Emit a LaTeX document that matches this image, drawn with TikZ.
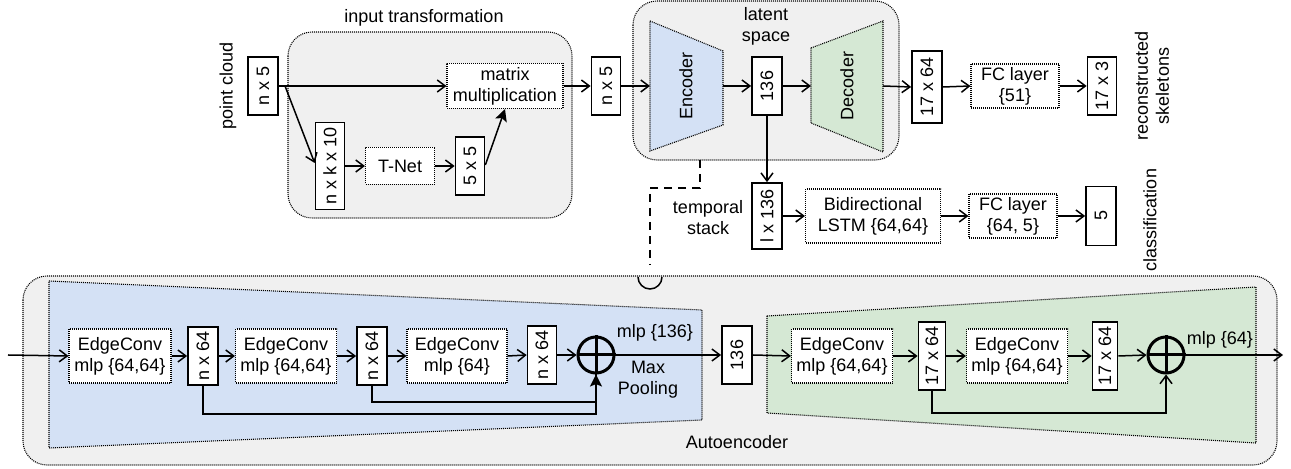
\documentclass[tikz,border=0pt]{standalone}
\usepackage{fontspec}
\setmainfont{Liberation Sans}
\usetikzlibrary{arrows.meta,calc}
\definecolor{bggray}{HTML}{F0F0F0}
\definecolor{encblue}{HTML}{D4E1F5}
\definecolor{decgreen}{HTML}{D5E8D4}
\tikzset{
  x=0.5pt,y=-0.5pt,
  every node/.style={font=\fontsize{9}{10.5}\selectfont, align=center},
  dotb/.style={dash pattern=on 0.5pt off 0.5pt, line width=0.55pt},
  dimbox/.style={draw, fill=white, line width=0.85pt, inner sep=0pt},
  opbox/.style={draw, dotb, fill=white, inner sep=0pt},
  conn/.style={line width=0.75pt, -{Straight Barb[length=4pt,width=6pt]}},
  fconn/.style={line width=0.75pt, -{Stealth[length=6pt,width=6pt,inset=1.2pt]}},
  plain/.style={line width=0.75pt},
  group/.style={draw, dotb, fill=bggray, rounded corners=12pt},
  oplus/.style={draw, circle, line width=1.5pt, minimum size=18pt, inner sep=0pt},
}
\newcommand{\rot}[1]{\rotatebox{90}{#1}}
\begin{document}
\begin{tikzpicture}
\useasboundingbox (0,0) rectangle (1291,469);

% ---------- group backgrounds ----------
\draw[group] (288,32) rectangle (572,218);
\draw[group] (633,1) rectangle (899,160);
\draw[group] (23,276) rectangle (1277,465);

% group labels
\node (itlab) at (424,18) {input transformation};
\node (lslab) at (766,26) {latent\\space};
\node (aelab) at (737,442) {Autoencoder};

% ---------- input transformation ----------
\node[dimbox, minimum width=15pt, minimum height=29pt] (pc) at (263,86) {\rot{n x 5}};
\node[rotate=90] (pclab) at (228,86) {point cloud};
\node[opbox, minimum width=58pt, minimum height=22.5pt] (mm) at (505,86) {matrix\\multiplication};
\node[dimbox, minimum width=14.5pt, minimum height=43.5pt] (nkx) at (330,166) {\rot{n x k x 10}};
\node[opbox, minimum width=34.5pt, minimum height=18.5pt] (tnet) at (400,166) {T-Net};
\node[dimbox, minimum width=14.5pt, minimum height=29pt] (f55) at (470,166) {\rot{5 x 5}};
\node[dimbox, minimum width=14.5pt, minimum height=29pt] (nx5b) at (606,86) {\rot{n x 5}};

\coordinate (split) at (285,86);
\draw[conn] (pc.east) -- (mm.west);
\draw[conn] (split) -- ($(nkx.west)+(0,-3)$);
\draw[conn] (nkx.east) -- (tnet.west);
\draw[conn] (tnet.east) -- (f55.west);
\draw[fconn] ($(f55.east)+(0,-1)$) -- (mm.south);
\draw[conn] (mm.east) -- (nx5b.west);

% ---------- latent space ----------
\draw[dotb, fill=encblue] (650,21) -- (723,51) -- (723,125) -- (650,151) -- cycle;
\node[rotate=90] (enclab) at (686,86) {Encoder};
\coordinate (encL) at (650,86);
\coordinate (encR) at (723,86);
\draw[dotb, fill=decgreen] (811,48) -- (883,21) -- (883,152) -- (811,123) -- cycle;
\node[rotate=90] (declab) at (847,86) {Decoder};
\coordinate (decL) at (811,86);
\coordinate (decR) at (883,86);
\node[dimbox, minimum width=15pt, minimum height=29pt] (l136) at (767,86) {\rot{136}};
\node[dimbox, minimum width=15pt, minimum height=36pt] (d1764) at (927,87) {\rot{17 x 64}};
\node[opbox, minimum width=44pt, minimum height=22pt] (fc51) at (1015,86) {FC layer\\\{51\}};
\node[dimbox, minimum width=14.5pt, minimum height=29pt] (s173) at (1102,86) {\rot{17 x 3}};
\node[rotate=90] (reclab) at (1152,86) {reconstructed\\skeletons};

\draw[conn] (nx5b.east) -- (encL);
\draw[conn] (encR) -- (l136.west);
\draw[conn] (l136.east) -- (decL);
\draw[conn] (decR) -- (d1764.west);
\draw[conn] (d1764.east) -- (fc51.west);
\draw[conn] (fc51.east) -- (s173.west);

% ---------- classification branch ----------
\node[dimbox, minimum width=15pt, minimum height=33pt] (lx136) at (767,216) {\rot{l x 136}};
\node (tslab) at (708,218) {temporal\\stack};
\node[opbox, minimum width=67.5pt, minimum height=27pt] (lstm) at (873,216) {Bidirectional\\LSTM \{64,64\}};
\node[opbox, minimum width=44pt, minimum height=22pt] (fc645) at (1013,216) {FC layer\\\{64, 5\}};
\node[dimbox, minimum width=15pt, minimum height=29.5pt] (c5) at (1101,216) {\rot{5}};
\node[rotate=90] (clslab) at (1150,220) {classification};

\draw[conn] (l136.south) -- (lx136.north);
\draw[conn] (lx136.east) -- (lstm.west);
\draw[conn] (lstm.east) -- (fc645.west);
\draw[conn] (fc645.east) -- (c5.west);

% dashed link with line jump
\coordinate (lsbot) at (700,160);
\coordinate (jumptop) at (650,265);
\draw[plain, dash pattern=on 4pt off 3pt] (lsbot) |- (650,188) -- (jumptop);
\draw[plain] (638,277) arc[start angle=180, end angle=0, radius=12];

% ---------- autoencoder ----------
\draw[dotb, fill=encblue] (49,281) -- (702,310) -- (702,420) -- (49,448) -- cycle;
\draw[dotb, fill=decgreen] (767,316) -- (1256,287) -- (1256,443) -- (767,413) -- cycle;

\node[opbox, minimum width=51pt, minimum height=27pt] (ec1) at (120,356) {EdgeConv\\mlp \{64,64\}};
\node[dimbox, minimum width=15pt, minimum height=29pt] (n641) at (203,356) {\rot{n x 64}};
\node[opbox, minimum width=50.5pt, minimum height=27pt] (ec2) at (286,356) {EdgeConv\\mlp \{64,64\}};
\node[dimbox, minimum width=15pt, minimum height=29pt] (n642) at (372,356) {\rot{n x 64}};
\node[opbox, minimum width=50pt, minimum height=27pt] (ec3) at (457,356) {EdgeConv\\mlp \{64\}};
\node[dimbox, minimum width=14.5pt, minimum height=29pt] (n643) at (542,355) {\rot{n x 64}};
\node[oplus] (cp1) at (596,355) {};
\draw[line width=1.5pt] (cp1.north) -- (cp1.south) (cp1.west) -- (cp1.east);
\node (mlp136) at (655,333) {mlp \{136\}};
\node (maxp) at (648,380) {Max\\Pooling};
\node[dimbox, minimum width=15pt, minimum height=29pt] (b136) at (737,355) {\rot{136}};
\node[opbox, minimum width=50.5pt, minimum height=27pt] (ec4) at (842,356) {EdgeConv\\mlp \{64,64\}};
\node[dimbox, minimum width=13.5pt, minimum height=34pt] (s641) at (932,356) {\rot{17 x 64}};
\node[opbox, minimum width=50.5pt, minimum height=27pt] (ec5) at (1017,356) {EdgeConv\\mlp \{64,64\}};
\node[dimbox, minimum width=12.5pt, minimum height=34pt] (s642) at (1105,356) {\rot{17 x 64}};
\node[oplus] (cp2) at (1166,355) {};
\draw[line width=1.5pt] (cp2.north) -- (cp2.south) (cp2.west) -- (cp2.east);
\node (mlp64) at (1220,340) {mlp \{64\}};

\coordinate (aein) at (8,355);
\coordinate (aeout) at (1283,355);
\draw[conn] (aein) -- (ec1.west);
\draw[conn] (ec1.east) -- (n641.west);
\draw[conn] (n641.east) -- (ec2.west);
\draw[conn] (ec2.east) -- (n642.west);
\draw[conn] (n642.east) -- (ec3.west);
\draw[conn] (ec3.east) -- (n643.west);
\draw[conn] (n643.east) -- (cp1.west);
\draw[conn] (cp1.east) -- (b136.west);
\draw[conn] (b136.east) -- (ec4.west);
\draw[conn] (ec4.east) -- (s641.west);
\draw[conn] (s641.east) -- (ec5.west);
\draw[conn] (ec5.east) -- (s642.west);
\draw[conn] (s642.east) -- (cp2.west);
\draw[conn] (cp2.east) -- (aeout);

% skip connections
\draw[plain] (n641.south) -- (203,414) -| (cp1.south);
\draw[fconn] (n642.south) -- (372,402) -| (cp1.south);
\draw[conn] (s641.south) -- (932,413) -| (cp2.south);
\end{tikzpicture}
\end{document}
